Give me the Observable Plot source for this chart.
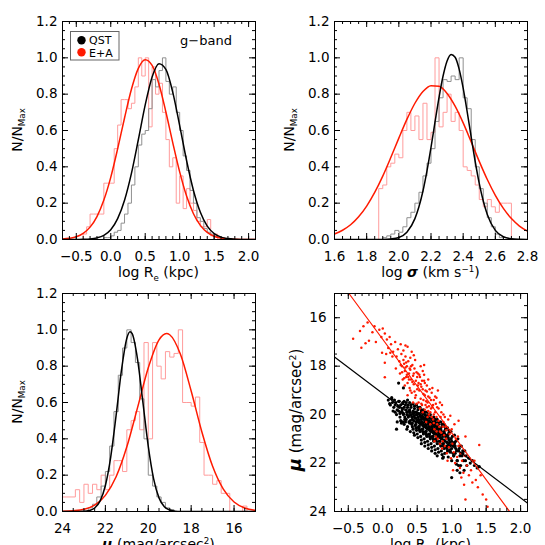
<!DOCTYPE html>
<html><head><meta charset="utf-8">
<script src="https://cdn.jsdelivr.net/npm/d3@7"></script>
<script src="https://cdn.jsdelivr.net/npm/@observablehq/plot@0.6"></script>
<style>
html,body{margin:0;padding:0;background:#fff;overflow:hidden;}
#wrap{position:relative;width:545px;height:545px;overflow:hidden;background:#fff;}
#wrap svg{position:absolute;overflow:visible;}
</style></head>
<body><div id="wrap"></div>
<script>
// ---------------- tick labels ----------------
const reMajor = [-0.5, 0, 0.5, 1, 1.5, 2];
const sigmaMajor = [1.6, 1.8, 2.0, 2.2, 2.4, 2.6, 2.8];
const muMajor = [24, 22, 20, 18, 16];
const normMajor = [0, 0.2, 0.4, 0.6, 0.8, 1.0, 1.2];
const muYMajor = [16, 18, 20, 22, 24];

// ---------------- histograms (bin start, bin width, N/Nmax per bin) ----------------
const reQstStart = -0.10, reEaStart = -0.40, reBinWidth = 0.05;
const reQstHist = [0.01,0.01,0.02,0.04,0.05,0.09,0.14,0.2,0.3,0.4,0.52,0.58,0.6,0.72,0.88,0.84,0.93,1.0,0.87,0.8,0.84,0.7,0.6,0.46,0.38,0.27,0.2,0.12,0.1,0.06,0.04,0.03,0.02,0.01,0.01];
const reEaHist = [0.03,0.07,0.14,0.14,0.14,0.14,0.31,0.31,0.31,0.5,0.63,0.77,0.77,0.72,0.75,0.84,1.0,0.9,1.0,0.62,0.95,0.8,0.86,0.7,0.55,0.4,0.45,0.2,0.35,0.17,0.28,0.2,0.16,0.1,0.07,0.07,0.11,0.02,0.03,0.0];

const sigQstStart = 1.875, sigEaStart = 1.875, sigBinWidth = 0.025;
const sigQstHist = [0,0.01,0.02,0.03,0.05,0.04,0.07,0.12,0.15,0.2,0.26,0.35,0.42,0.5,0.65,0.78,0.88,0.87,0.9,0.88,1.0,0.78,0.72,0.55,0.4,0.28,0.2,0.12,0.07,0.03,0.01];
const sigEaHist = [0.28,0.3,0.4,0.42,0.47,0.45,0.6,0.7,0.6,0.68,0.55,0.75,0.55,0.59,1.0,0.62,0.7,0.8,0.65,0.7,0.6,0.4,0.38,0.35,0.3,0.22,0.18,0.22,0.18,0.15,0.2,0.2,0.2];

const muQstStart = 18.8, muEaStart = 15.2, muBinWidth = 0.2;
const muQstHist = [0.01,0.02,0.05,0.08,0.14,0.2,0.4,0.62,0.82,0.93,1.0,0.9,0.75,0.55,0.36,0.22,0.14,0.08,0.04,0.02];
const muEaHist = [0,0.03,0,0,0,0.1,0.1,0.17,0.15,0.2,0.2,0.38,0.63,0.58,0.6,0.6,1.0,0.87,0.85,0.88,0.73,0.8,0.93,0.4,0.93,0.45,0.55,0.5,0.45,0.22,0.28,0.28,0.2,0.12,0.2,0.12,0.15,0.1,0.15,0.05,0.12,0.08,0.08,0.08];

// ---------------- Gaussian fit curves ----------------
const reFitX = [-0.7,-0.6,-0.5,-0.4,-0.3,-0.2,-0.1,0,0.1,0.2,0.3,0.4,0.5,0.6,0.7,0.8,0.9,1.0,1.1,1.2,1.3,1.4,1.5,1.6,1.7,1.8,1.9,2.0,2.1];
const reQstFit = [0,0,0,0.001,0.003,0.009,0.023,0.054,0.115,0.216,0.364,0.549,0.741,0.895,0.968,0.936,0.81,0.627,0.435,0.27,0.15,0.074,0.033,0.013,0.005,0.0015,0.0004,0,0];
const reEaFit = [0.0025,0.0065,0.015,0.034,0.068,0.126,0.217,0.342,0.499,0.669,0.827,0.942,0.99,0.958,0.855,0.702,0.532,0.372,0.239,0.142,0.078,0.039,0.018,0.008,0.003,0.001,0.0003,0.0001,0];

const sigQstFitX = [1.6,1.7,1.8,1.85,1.9,1.95,2.0,2.05,2.1,2.125,2.15,2.175,2.2,2.225,2.25,2.275,2.3,2.325,2.35,2.375,2.4,2.425,2.45,2.475,2.5,2.525,2.55,2.6,2.65,2.7,2.75,2.8];
const sigQstFit = [0,0,0,0.0001,0.0005,0.003,0.011,0.040,0.115,0.180,0.267,0.378,0.507,0.647,0.783,0.900,0.983,1.019,1.003,0.938,0.833,0.703,0.563,0.428,0.309,0.212,0.138,0.050,0.015,0.004,0.001,0];
const sigEaFitX = [1.6,1.65,1.7,1.75,1.8,1.85,1.9,1.95,2.0,2.05,2.1,2.15,2.2,2.25,2.3,2.35,2.4,2.45,2.5,2.55,2.6,2.65,2.7,2.75,2.8];
const sigEaFit = [0.030,0.051,0.081,0.125,0.184,0.259,0.349,0.451,0.558,0.661,0.750,0.815,0.847,0.843,0.804,0.734,0.642,0.537,0.430,0.330,0.243,0.171,0.115,0.074,0.046];

const muQstFitX = [15,16,17,18,18.5,18.75,19.0,19.25,19.5,19.75,20.0,20.25,20.5,20.75,20.85,21.0,21.25,21.5,21.75,22.0,22.25,22.5,22.75,23.0,23.5,24];
const muQstFit = [0,0,0,0,0,0.002,0.008,0.026,0.075,0.18,0.359,0.6,0.838,0.979,0.99,0.954,0.778,0.529,0.301,0.143,0.057,0.019,0.005,0.001,0,0];
const muEaFitX = [15,15.5,16,16.5,17,17.5,18,18.5,19,19.15,19.5,20,20.5,21,21.5,22,22.5,23,23.5,24];
const muEaFit = [0.006,0.019,0.052,0.123,0.249,0.438,0.663,0.865,0.973,0.98,0.945,0.791,0.572,0.356,0.191,0.089,0.035,0.012,0.004,0.001];

// ---------------- scatter: log Re vs mu ----------------
const qstPoints = [
[0.08,19.4],[0.11,19.6],[0.13,19.35],[0.1,19.55],
[0.14,19.5],[0.16,19.7],[0.17,19.4],[0.15,19.85],[0.18,19.6],[0.13,19.3],
[0.19,19.5],[0.21,19.8],[0.22,19.65],[0.2,20.0],[0.23,19.45],[0.18,19.9],[0.24,19.7],[0.21,20.3],[0.2,20.6],
[0.24,19.45],[0.26,19.6],[0.27,19.9],[0.25,20.1],[0.28,19.75],[0.23,19.85],[0.26,20.25],[0.29,19.55],[0.25,19.95],[0.27,20.35],
[0.29,19.5],[0.31,19.7],[0.3,20.0],[0.32,20.2],[0.28,19.85],[0.33,19.6],[0.31,20.4],[0.3,19.95],[0.32,20.1],[0.29,20.3],[0.34,19.8],[0.31,19.45],
[0.34,19.5],[0.36,19.7],[0.35,19.9],[0.37,20.1],[0.33,20.3],[0.36,20.5],[0.38,19.85],[0.35,20.0],[0.34,20.2],[0.37,19.6],[0.39,20.35],[0.35,20.6],[0.36,19.4],[0.38,20.05],
[0.39,19.5],[0.41,19.7],[0.4,19.9],[0.42,20.1],[0.38,20.3],[0.43,20.5],[0.41,20.0],[0.4,20.25],[0.39,19.8],[0.44,19.95],[0.42,20.4],[0.4,20.7],[0.41,19.6],[0.43,20.2],[0.38,20.05],[0.44,20.6],
[0.44,19.55],[0.46,19.75],[0.45,19.95],[0.47,20.15],[0.43,20.35],[0.48,20.55],[0.46,20.05],[0.45,20.25],[0.44,19.85],[0.49,20.0],[0.47,20.45],[0.45,20.75],[0.46,19.65],[0.48,20.3],[0.43,20.1],[0.49,20.65],[0.46,20.85],[0.47,19.9],
[0.49,19.6],[0.51,19.8],[0.5,20.0],[0.52,20.2],[0.48,20.4],[0.53,20.6],[0.51,20.1],[0.5,20.3],[0.49,19.9],[0.54,20.05],[0.52,20.5],[0.5,20.8],[0.51,19.7],[0.53,20.35],[0.48,20.15],[0.54,20.7],[0.51,20.95],[0.52,19.95],[0.5,20.25],[0.49,20.55],
[0.54,19.7],[0.56,19.9],[0.55,20.1],[0.57,20.3],[0.53,20.5],[0.58,20.7],[0.56,20.2],[0.55,20.4],[0.54,20.0],[0.59,20.15],[0.57,20.6],[0.55,20.9],[0.56,19.8],[0.58,20.45],[0.53,20.25],[0.59,20.8],[0.56,21.05],[0.57,20.05],[0.55,20.35],[0.54,20.65],[0.58,19.95],[0.56,21.2],
[0.59,19.8],[0.61,20.0],[0.6,20.2],[0.62,20.4],[0.58,20.6],[0.63,20.8],[0.61,20.3],[0.6,20.5],[0.59,20.1],[0.64,20.25],[0.62,20.7],[0.6,21.0],[0.61,19.9],[0.63,20.55],[0.58,20.35],[0.64,20.9],[0.61,21.15],[0.62,20.15],[0.6,20.45],[0.59,20.75],[0.63,20.05],[0.61,21.3],
[0.64,19.9],[0.66,20.1],[0.65,20.3],[0.67,20.5],[0.63,20.7],[0.68,20.9],[0.66,20.4],[0.65,20.6],[0.64,20.2],[0.69,20.35],[0.67,20.8],[0.65,21.1],[0.66,20.0],[0.68,20.65],[0.63,20.45],[0.69,21.0],[0.66,21.25],[0.67,20.25],[0.65,20.55],[0.64,20.85],[0.68,20.15],[0.66,21.4],
[0.69,20.0],[0.71,20.2],[0.7,20.4],[0.72,20.6],[0.68,20.8],[0.73,21.0],[0.71,20.5],[0.7,20.7],[0.69,20.3],[0.74,20.45],[0.72,20.9],[0.7,21.2],[0.71,20.1],[0.73,20.75],[0.68,20.55],[0.74,21.1],[0.71,21.35],[0.72,20.35],[0.7,20.65],[0.69,20.95],[0.73,20.25],[0.71,21.5],
[0.74,20.1],[0.76,20.3],[0.75,20.5],[0.77,20.7],[0.73,20.9],[0.78,21.1],[0.76,20.6],[0.75,20.8],[0.74,20.4],[0.79,20.55],[0.77,21.0],[0.75,21.3],[0.76,20.2],[0.78,20.85],[0.73,20.65],[0.79,21.2],[0.76,21.45],[0.77,20.45],[0.75,20.75],[0.74,21.05],[0.78,20.35],[0.76,21.6],
[0.79,20.2],[0.81,20.4],[0.8,20.6],[0.82,20.8],[0.78,21.0],[0.83,21.2],[0.81,20.7],[0.8,20.9],[0.79,20.5],[0.84,20.65],[0.82,21.1],[0.8,21.4],[0.81,20.3],[0.83,20.95],[0.78,20.75],[0.84,21.3],[0.81,21.55],[0.82,20.55],[0.8,20.85],[0.79,21.7],
[0.84,20.3],[0.86,20.5],[0.85,20.7],[0.87,20.9],[0.83,21.1],[0.88,21.3],[0.86,20.8],[0.85,21.0],[0.84,20.6],[0.89,20.75],[0.87,21.2],[0.85,21.5],[0.86,20.4],[0.88,21.05],[0.83,20.85],[0.89,21.4],[0.86,21.65],[0.87,21.8],
[0.89,20.4],[0.91,20.6],[0.9,20.8],[0.92,21.0],[0.88,21.2],[0.93,21.4],[0.91,20.9],[0.9,21.1],[0.89,20.7],[0.94,20.85],[0.92,21.3],[0.9,21.6],[0.91,20.5],[0.93,21.15],[0.88,21.75],[0.94,21.5],
[0.94,20.55],[0.96,20.75],[0.95,20.95],[0.97,21.15],[0.93,21.35],[0.98,21.55],[0.96,21.05],[0.95,21.25],[0.94,20.85],[0.99,21.0],[0.97,21.45],[0.95,21.75],[0.96,20.65],[0.98,21.3],
[0.99,20.7],[1.01,20.9],[1.0,21.1],[1.02,21.3],[0.98,21.5],[1.03,21.7],[1.01,21.2],[1.0,21.4],[0.99,21.0],[1.04,21.15],[1.02,21.6],[1.0,21.9],[1.0,22.6],
[1.04,20.85],[1.06,21.1],[1.05,21.3],[1.07,21.5],[1.03,21.7],[1.08,21.9],[1.06,21.4],[1.05,21.6],[1.04,21.2],[1.07,22.05],
[1.09,21.0],[1.11,21.3],[1.1,21.5],[1.12,21.7],[1.08,21.9],[1.13,21.6],[1.11,21.4],[1.1,22.1],[1.12,22.4],[1.08,22.3],
[1.14,21.3],[1.16,21.5],[1.15,21.7],[1.17,21.9],[1.13,22.1],[1.16,21.6],
[1.19,21.5],[1.21,21.7],[1.2,21.9],[1.22,22.1],[1.18,22.3],
[1.25,21.8],[1.27,22.0],[1.3,21.9],[1.33,22.1],[1.37,22.2],[1.4,22.15],
[0.23,18.7],[0.3,18.9]
];
const eaPoints = [
[-0.43,16.87],[-0.33,16.55],[-0.31,17.24],[-0.28,16.35],[-0.25,17.05],[-0.22,16.2],[-0.2,16.95],[-0.15,16.6],[-0.12,16.35],[-0.1,17.0],[-0.05,16.5],[-0.02,16.8],[0.0,16.45],[0.03,16.65],[0.05,17.5],[0.06,16.9],[0.08,17.25],[0.1,16.8],[-0.01,17.45],[0.11,17.45],[0.03,17.86],[0.03,18.46],
[0.12,17.1],[0.15,17.4],[0.18,17.0],[0.2,17.6],[0.22,17.3],[0.24,17.8],[0.26,17.1],[0.27,17.5],[0.28,18.0],[0.3,17.35],[0.3,17.75],[0.14,17.6],[0.19,18.1],[0.25,18.3],[0.29,18.55],[0.33,17.15],[0.36,17.2],
[0.31,17.9],[0.32,18.2],[0.33,17.6],[0.34,18.45],[0.35,18.0],[0.36,18.7],[0.37,17.8],[0.38,18.3],[0.39,18.9],[0.4,17.65],[0.4,18.15],[0.41,18.55],[0.42,19.1],[0.43,17.95],[0.44,18.4],[0.45,18.75],[0.46,18.1],[0.47,19.3],[0.48,18.6],[0.49,18.25],[0.5,18.95],[0.32,18.8],[0.36,19.2],[0.42,17.4],[0.47,17.75],[0.38,18.55],[0.44,19.5],[0.35,18.35],[0.49,19.55],[0.41,18.0],
[0.51,18.3],[0.52,18.7],[0.53,19.0],[0.54,18.45],[0.55,19.35],[0.56,18.85],[0.57,19.6],[0.58,18.2],[0.59,19.15],[0.6,18.6],[0.61,19.8],[0.62,19.0],[0.63,19.45],[0.64,18.8],[0.65,20.1],[0.66,19.25],[0.67,19.65],[0.68,18.95],[0.69,19.9],[0.7,19.4],[0.52,19.5],[0.55,18.0],[0.58,19.9],[0.6,18.35],[0.63,20.3],[0.66,18.55],[0.69,20.4],[0.54,19.75],[0.57,18.6],[0.61,19.2],[0.64,19.7],[0.67,20.0],
[0.71,19.1],[0.72,19.7],[0.73,20.2],[0.74,19.4],[0.75,20.6],[0.76,19.9],[0.77,20.9],[0.78,19.3],[0.79,20.4],[0.8,21.0],[0.81,19.75],[0.82,20.5],[0.83,21.2],[0.84,20.1],[0.85,20.75],[0.86,19.6],[0.87,21.1],[0.88,20.3],[0.89,20.85],[0.9,21.3],[0.72,18.9],[0.75,21.1],[0.78,20.7],[0.8,19.0],[0.83,19.5],[0.86,21.4],[0.88,20.0],[0.74,20.0],[0.77,19.55],
[0.91,20.5],[0.92,21.0],[0.93,21.6],[0.95,20.2],[0.96,21.35],[0.97,20.8],[0.99,21.8],[1.0,20.6],[1.01,21.2],[1.03,21.55],[1.04,20.4],[1.05,22.0],[1.06,21.0],[1.08,21.75],[1.1,21.3],[1.12,22.2],[1.13,21.6],[1.15,21.9],[1.17,22.4],[1.19,21.7],[0.94,21.9],[0.98,20.05],[1.02,22.3],[1.09,20.9],[1.14,22.6],[1.1,20.25],[1.2,20.9],
[1.22,22.1],[1.25,22.5],[1.28,22.3],[1.3,22.8],[1.35,22.7],[1.38,23.0],[1.4,21.25],[1.45,23.3],[1.5,23.5],[1.52,23.8],[1.2,23.5],[1.18,22.9],[1.42,22.5],[1.33,21.9],
[0.26,17.95],[0.28,18.25],[0.31,18.5],[0.33,18.05],[0.34,17.85],[0.37,18.45],[0.39,18.1],[0.4,19.0],[0.43,18.65],[0.45,18.3],[0.46,19.05],[0.48,19.2],[0.5,18.45],[0.51,18.8],[0.53,18.35],[0.55,18.75],[0.56,19.55],[0.58,18.95],[0.59,19.4],[0.61,18.7],[0.62,19.6],[0.64,19.05],[0.65,19.5],[0.66,19.85],[0.68,19.3],[0.7,19.75],[0.71,20.1],[0.73,19.6],[0.74,20.35],[0.76,19.25],[0.78,20.1],[0.79,19.7],[0.81,20.25],[0.83,20.7],[0.85,19.9],[0.87,20.5],[0.9,20.1],[0.92,20.65],[0.6,17.95],[0.45,17.55]
];
const qstLineX = [-0.7, 2.1], qstLineY = [17.62, 23.65];
const eaLineX = [-0.49, 1.84], eaLineY = [15.0, 24.0];

// ---------------- colours ----------------
const cQst = "#000000", cEa = "#ff1a00", cQstHist = "#8f8f8f", cEaHist = "#ff9c9c";

// ---------------- helpers ----------------
const FONT = "'DejaVu Sans', sans-serif";
function histPoints(start, width, vals) {
  const pts = [{x: start, y: 0}];
  vals.forEach((v, i) => pts.push({x: start + i * width, y: v}));
  pts.push({x: start + vals.length * width, y: 0});
  return pts;
}
function fitPoints(xs, ys) { return xs.map((x, i) => ({x, y: ys[i]})); }
function minorTicks(a, b, step) { return d3.range(Math.round((b - a) / step) + 1).map(i => +(a + i * step).toFixed(4)); }

const W = 272, H = 290, ML = 62, MR = 17, MT = 21, MB = 51;
const FW = W - ML - MR, FH = H - MT - MB, MAJ = 6, MIN = 3;

function panel({left, top, xDomain, yDomain, marks, xMajor, xMinor, yMajor, yMinor, xFormat, yFormat, yPad}) {
  const svg = Plot.plot({
    width: W, height: H, marginLeft: ML, marginRight: MR, marginTop: MT, marginBottom: MB,
    x: {domain: xDomain}, y: {domain: yDomain},
    style: {fontFamily: FONT, fontSize: "13.5px", color: "#000", background: "transparent", overflow: "visible"},
    marks: [
      ...marks,
      Plot.tickX(xMajor, {x: d => d, insetTop: FH - MAJ, stroke: "#000"}),
      Plot.tickX(xMajor, {x: d => d, insetBottom: FH - MAJ, stroke: "#000"}),
      Plot.tickX(xMinor, {x: d => d, insetTop: FH - MIN, stroke: "#000"}),
      Plot.tickX(xMinor, {x: d => d, insetBottom: FH - MIN, stroke: "#000"}),
      Plot.tickY(yMajor, {y: d => d, insetRight: FW - MAJ, stroke: "#000"}),
      Plot.tickY(yMajor, {y: d => d, insetLeft: FW - MAJ, stroke: "#000"}),
      Plot.tickY(yMinor, {y: d => d, insetRight: FW - MIN, stroke: "#000"}),
      Plot.tickY(yMinor, {y: d => d, insetLeft: FW - MIN, stroke: "#000"}),
      Plot.axisX({ticks: xMajor, tickSize: 0, tickPadding: 12, tickFormat: xFormat, label: null}),
      Plot.axisY({ticks: yMajor, tickSize: 0, tickPadding: yPad, tickFormat: yFormat, label: null}),
      Plot.frame({stroke: "#000", strokeWidth: 1})
    ]
  });
  svg.style.left = left + "px";
  svg.style.top = top + "px";
  document.getElementById("wrap").appendChild(svg);
  return d3.select(svg);
}

function title(sel, parts, {x, y, rotate = false, size = 14}) {
  const t = sel.append("text")
    .attr("text-anchor", "middle")
    .attr("font-family", FONT)
    .attr("font-size", size)
    .attr("fill", "#000");
  if (rotate) t.attr("transform", `translate(${x},${y}) rotate(-90)`);
  else t.attr("x", x).attr("y", y);
  let shift = 0;
  for (const p of parts) {
    const ts = t.append("tspan").text(p.t);
    const target = p.sub ? 3.5 : p.sup ? -5.5 : 0;
    if (target !== shift) { ts.attr("dy", target - shift); shift = target; }
    if (p.sub || p.sup) ts.attr("font-size", size * 0.62);
    if (p.size) ts.attr("font-size", p.size);
    if (p.italic) ts.attr("font-style", "italic");
    if (p.bold) ts.attr("font-weight", "bold");
  }
  return t;
}

const f1 = d3.format(".1f"), f0 = d3.format("d");
const normMinor = minorTicks(0, 1.2, 0.05);
const nTitle = [{t: "N/N"}, {t: "Max", sub: true}];
const TX = ML + FW / 2, TY = 277;

// ---------------- top-left: log Re ----------------
const tl = panel({
  left: 0, top: 0, xDomain: [-0.7, 2.1], yDomain: [0, 1.2],
  xMajor: reMajor, xMinor: minorTicks(-0.7, 2.1, 0.1), yMajor: normMajor, yMinor: normMinor,
  xFormat: f1, yFormat: f1, yPad: 5,
  marks: [
    Plot.line(histPoints(reEaStart, reBinWidth, reEaHist), {x: "x", y: "y", curve: "step-after", stroke: cEaHist, strokeWidth: 1, clip: true}),
    Plot.line(histPoints(reQstStart, reBinWidth, reQstHist), {x: "x", y: "y", curve: "step-after", stroke: cQstHist, strokeWidth: 1, clip: true}),
    Plot.line(fitPoints(reFitX, reEaFit), {x: "x", y: "y", curve: "monotone-x", stroke: cEa, strokeWidth: 1.5, clip: true}),
    Plot.line(fitPoints(reFitX, reQstFit), {x: "x", y: "y", curve: "monotone-x", stroke: cQst, strokeWidth: 1.5, clip: true})
  ]
});
title(tl, [{t: "log R"}, {t: "e", sub: true}, {t: " (kpc)"}], {x: TX, y: TY});
title(tl, nTitle, {x: 21.5, y: MT + FH / 2, rotate: true});
// legend
const lg = tl.append("g").attr("font-family", FONT).attr("font-size", 11).attr("text-anchor", "start");
lg.append("rect").attr("x", 70.5).attr("y", 31.5).attr("width", 48.5).attr("height", 28.5).attr("fill", "none").attr("stroke", "#666");
lg.append("circle").attr("cx", 81.5).attr("cy", 40.3).attr("r", 4.2).attr("fill", cQst);
lg.append("circle").attr("cx", 81.5).attr("cy", 52.3).attr("r", 4.2).attr("fill", cEa);
lg.append("text").attr("x", 89).attr("y", 44).attr("text-anchor", "start").text("QST");
lg.append("text").attr("x", 89).attr("y", 56.5).attr("text-anchor", "start").text("E+A");
tl.append("text").attr("x", 206).attr("y", 45).attr("text-anchor", "middle").attr("font-family", FONT).attr("font-size", 13).text("g\u2212band");

// ---------------- top-right: log sigma ----------------
const tr = panel({
  left: 272, top: 0, xDomain: [1.6, 2.8], yDomain: [0, 1.2],
  xMajor: sigmaMajor, xMinor: minorTicks(1.6, 2.8, 0.05), yMajor: normMajor, yMinor: normMinor,
  xFormat: f1, yFormat: f1, yPad: 5,
  marks: [
    Plot.line(histPoints(sigEaStart, sigBinWidth, sigEaHist), {x: "x", y: "y", curve: "step-after", stroke: cEaHist, strokeWidth: 1, clip: true}),
    Plot.line(histPoints(sigQstStart, sigBinWidth, sigQstHist), {x: "x", y: "y", curve: "step-after", stroke: cQstHist, strokeWidth: 1, clip: true}),
    Plot.line(fitPoints(sigEaFitX, sigEaFit), {x: "x", y: "y", curve: "monotone-x", stroke: cEa, strokeWidth: 1.5, clip: true}),
    Plot.line(fitPoints(sigQstFitX, sigQstFit), {x: "x", y: "y", curve: "monotone-x", stroke: cQst, strokeWidth: 1.5, clip: true})
  ]
});
title(tr, [{t: "log "}, {t: "\u03c3", italic: true, bold: true}, {t: " (km s"}, {t: "\u22121", sup: true}, {t: ")"}], {x: TX, y: TY});
title(tr, nTitle, {x: 21.5, y: MT + FH / 2, rotate: true});

// ---------------- bottom-left: mu ----------------
const bl = panel({
  left: 0, top: 272, xDomain: [24, 15], yDomain: [0, 1.2],
  xMajor: muMajor, xMinor: minorTicks(15, 24, 0.5), yMajor: normMajor, yMinor: normMinor,
  xFormat: f0, yFormat: f1, yPad: 5,
  marks: [
    Plot.line(histPoints(muEaStart, muBinWidth, muEaHist), {x: "x", y: "y", curve: "step-after", stroke: cEaHist, strokeWidth: 1, clip: true}),
    Plot.line(histPoints(muQstStart, muBinWidth, muQstHist), {x: "x", y: "y", curve: "step-after", stroke: cQstHist, strokeWidth: 1, clip: true}),
    Plot.line(fitPoints(muEaFitX, muEaFit), {x: "x", y: "y", curve: "monotone-x", stroke: cEa, strokeWidth: 1.5, clip: true}),
    Plot.line(fitPoints(muQstFitX, muQstFit), {x: "x", y: "y", curve: "monotone-x", stroke: cQst, strokeWidth: 1.5, clip: true})
  ]
});
title(bl, [{t: "\u03bc", italic: true, bold: true}, {t: " (mag/arcsec"}, {t: "2", sup: true}, {t: ")"}], {x: TX, y: TY});
title(bl, nTitle, {x: 21.5, y: MT + FH / 2, rotate: true});

// ---------------- bottom-right: scatter ----------------
const br = panel({
  left: 272, top: 272, xDomain: [-0.7, 2.1], yDomain: [24, 15],
  xMajor: reMajor, xMinor: minorTicks(-0.7, 2.1, 0.1), yMajor: muYMajor, yMinor: minorTicks(15, 24, 0.5),
  xFormat: f1, yFormat: f0, yPad: 8,
  marks: [
    Plot.dot(qstPoints, {x: d => d[0], y: d => d[1], r: 1.6, fill: cQst, clip: true}),
    Plot.dot(eaPoints, {x: d => d[0], y: d => d[1], r: 1.25, fill: cEa, clip: true}),
    Plot.line(fitPoints(qstLineX, qstLineY), {x: "x", y: "y", stroke: cQst, strokeWidth: 1.2, clip: true}),
    Plot.line(fitPoints(eaLineX, eaLineY), {x: "x", y: "y", stroke: cEa, strokeWidth: 1.2, clip: true})
  ]
});
title(br, [{t: "log R"}, {t: "e", sub: true}, {t: " (kpc)"}], {x: TX, y: TY});
title(br, [{t: "\u03bc", italic: true, bold: true, size: 18}, {t: " (mag/arcsec"}, {t: "2", sup: true}, {t: ")"}], {x: 29, y: MT + FH / 2 + 8, rotate: true, size: 15});
</script>
</body></html>
